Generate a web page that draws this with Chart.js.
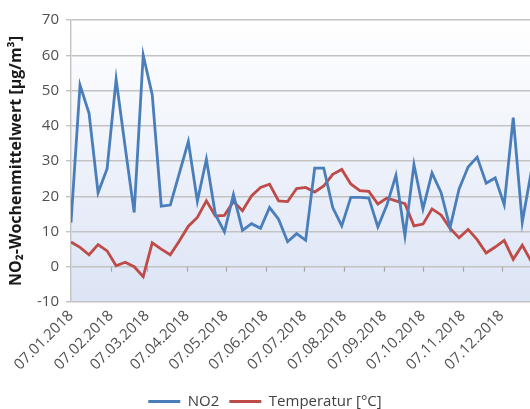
<!DOCTYPE html>
<html>
<head>
<meta charset="utf-8">
<script src="https://cdn.jsdelivr.net/npm/chart.js@4/dist/chart.umd.min.js"></script>
<style>
  html, body { margin: 0; padding: 0; background: #ffffff; overflow: hidden; }
  #wrap { width: 530px; height: 409px; }
</style>
</head>
<body>
<div id="wrap"><canvas id="c" width="530" height="409"></canvas></div>
<script>
// Weekly means, first week starting 07.01.2018 (one value every 7 days)
const no2Values = [
  12.5, 51.5, 43.5, 21.0, 27.8, 53.2, 34.0, 15.4, 60.0, 48.8,
  17.2, 17.5, 26.5, 35.5, 18.6, 30.5, 14.8, 9.9, 20.5, 10.3,
  12.2, 10.9, 16.8, 13.5, 7.1, 9.4, 7.5, 28.0, 28.0, 16.8,
  11.6, 19.7, 19.7, 19.5, 11.3, 17.5, 25.9, 8.8, 29.0, 16.4,
  26.6, 21.1, 11.1, 22.1, 28.3, 31.1, 23.7, 25.2, 17.6, 42.3,
  12.6, 27.0
];
const temperatureValues = [
  7.0, 5.5, 3.4, 6.3, 4.5, 0.3, 1.3, 0.0, -2.8, 6.8,
  5.0, 3.4, 7.3, 11.5, 14.0, 18.7, 14.4, 14.6, 18.5, 15.9,
  20.1, 22.5, 23.4, 18.7, 18.5, 22.2, 22.5, 21.2, 22.9, 26.2,
  27.6, 23.5, 21.6, 21.4, 17.8, 19.5, 18.7, 17.9, 11.6, 12.1,
  16.4, 14.7, 10.9, 8.2, 10.6, 7.7, 3.9, 5.6, 7.5, 2.1,
  6.1, 1.5
];
// Axis labels: one per month, placed by day offset from 07.01.2018
const tickLabels = [
  '07.01.2018', '07.02.2018', '07.03.2018', '07.04.2018', '07.05.2018', '07.06.2018',
  '07.07.2018', '07.08.2018', '07.09.2018', '07.10.2018', '07.11.2018', '07.12.2018'
];
const tickDays = [0, 31, 59, 90, 120, 151, 181, 212, 243, 273, 304, 334];
const seriesNames = ['NO2', 'Temperatur [°C]'];
const yTitle = 'NO\u2082-Wochenmittelwert [µg/m³]';

const weekDay = (i) => i * 7;
const toPoints = (arr) => arr.map((v, i) => ({ x: weekDay(i), y: v }));

const FONT = "'Open Sans', 'DejaVu Sans', sans-serif";
const GRID = '#c3c3c3';

// Soft white-to-blue fill behind the plot
const plotBackground = {
  id: 'plotBackground',
  beforeDraw(chart) {
    const { ctx, chartArea: a } = chart;
    const g = ctx.createLinearGradient(0, a.top, 0, a.bottom);
    g.addColorStop(0, '#ffffff');
    g.addColorStop(1, '#dce4f5');
    ctx.save();
    ctx.fillStyle = g;
    ctx.fillRect(a.left, a.top, a.right - a.left, a.bottom - a.top);
    ctx.restore();
  }
};

// Month tick marks on the horizontal line through zero
const zeroTicks = {
  id: 'zeroTicks',
  beforeDatasetsDraw(chart) {
    const { ctx, scales } = chart;
    const y0 = scales.y.getPixelForValue(0);
    ctx.save();
    ctx.strokeStyle = '#a8a8a8';
    ctx.lineWidth = 1.2;
    ctx.beginPath();
    scales.x.ticks.forEach(t => {
      const px = Math.round(scales.x.getPixelForValue(t.value)) + 0.5;
      if (px <= chart.chartArea.left + 1) return;
      ctx.moveTo(px, y0);
      ctx.lineTo(px, y0 + 5);
    });
    ctx.stroke();
    ctx.restore();
  }
};

new Chart(document.getElementById('c'), {
  type: 'line',
  data: {
    datasets: [
      {
        label: seriesNames[0],
        data: toPoints(no2Values),
        borderColor: '#4a7ebb',
        backgroundColor: '#4a7ebb',
        borderWidth: 2.8,
        pointRadius: 0,
        tension: 0
      },
      {
        label: seriesNames[1],
        data: toPoints(temperatureValues),
        borderColor: '#be4b48',
        backgroundColor: '#be4b48',
        borderWidth: 2.8,
        pointRadius: 0,
        tension: 0
      }
    ]
  },
  options: {
    responsive: false,
    animation: false,
    devicePixelRatio: 1,
    layout: { padding: { top: 20, right: 0, left: 0, bottom: -10 } },
    plugins: {
      tooltip: { enabled: false },
      legend: {
        position: 'bottom',
        labels: {
          usePointStyle: true,
          pointStyle: 'line',
          pointStyleWidth: 32,
          boxWidth: 32,
          boxHeight: 14,
          padding: 10,
          color: '#404040',
          font: { family: FONT, size: 15 }
        }
      }
    },
    scales: {
      x: {
        type: 'linear',
        min: 0,
        max: 356,
        afterBuildTicks(scale) {
          scale.ticks = tickDays.map(d => ({ value: d }));
        },
        afterFit(scale) { scale.height = 82; },
        grid: { display: false, drawTicks: false },
        border: { display: false },
        ticks: {
          autoSkip: false,
          minRotation: 45,
          maxRotation: 45,
          padding: 5,
          color: '#505050',
          font: { family: FONT, size: 15 },
          callback: (v, i) => tickLabels[i]
        }
      },
      y: {
        min: -10,
        max: 70,
        afterFit(scale) { scale.width = 71; },
        ticks: {
          stepSize: 10,
          padding: 7,
          color: '#505050',
          font: { family: FONT, size: 15 }
        },
        grid: { color: GRID, lineWidth: 1.4, tickLength: 5 },
        border: { color: GRID, width: 1.4 },
        title: {
          display: true,
          text: yTitle,
          color: '#1a1a1a',
          font: { family: FONT, size: 16, weight: 'bold' },
          padding: { top: 7, bottom: 0 }
        }
      }
    }
  },
  plugins: [plotBackground, zeroTicks]
});
</script>
</body>
</html>
